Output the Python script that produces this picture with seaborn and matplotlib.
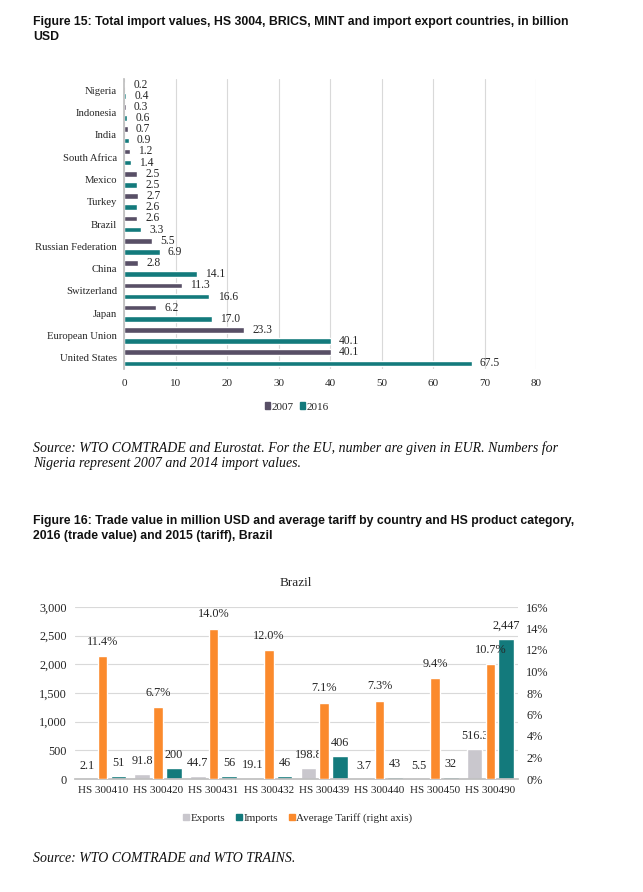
import numpy as np
import pandas as pd
import matplotlib
matplotlib.use('Agg')
import matplotlib.pyplot as plt
import seaborn as sns
from matplotlib.patches import Patch
from matplotlib.ticker import FuncFormatter

# Figure 15 data (billion USD)
countries = ['Nigeria', 'Indonesia', 'India', 'South Africa', 'Mexico', 'Turkey', 'Brazil',
             'Russian Federation', 'China', 'Switzerland', 'Japan', 'European Union', 'United States']
imports_2007 = [0.2, 0.3, 0.7, 1.2, 2.5, 2.7, 2.6, 5.5, 2.8, 11.3, 6.2, 23.3, 40.1]
imports_2016 = [0.4, 0.6, 0.9, 1.4, 2.5, 2.6, 3.3, 6.9, 14.1, 16.6, 17.0, 40.1, 67.5]

# Figure 16 data, Brazil
hs_codes = ['HS 300410', 'HS 300420', 'HS 300431', 'HS 300432',
            'HS 300439', 'HS 300440', 'HS 300450', 'HS 300490']
exports = [2.1, 91.8, 44.7, 19.1, 198.8, 3.7, 5.5, 516.3]
imports = [51, 200, 56, 46, 406, 43, 32, 2447]
tariff = [11.4, 6.7, 14.0, 12.0, 7.1, 7.3, 9.4, 10.7]

C2007 = '#584f66'
TEAL = '#137a7c'
GREY = '#c9c7cd'
ORANGE = '#fb8a2c'
GRID = '#d9d9d9'

sns.set_theme(style='white')
SERIF = ['Liberation Serif', 'DejaVu Serif']
SANS = ['Liberation Sans Narrow', 'Liberation Sans', 'DejaVu Sans']
plt.rcParams['font.family'] = SERIF

W, H = 643, 892
fig = plt.figure(figsize=(W / 100, H / 100), dpi=100)


def box(l, t, r, b):
    return [l / W, 1 - b / H, (r - l) / W, (b - t) / H]


def ftext(x, y, s, **kw):
    fig.text(x / W, 1 - y / H, s, va='center', **kw)


# titles and sources
title_kw = dict(family=SANS, fontweight='bold', fontsize=8.8, color='#111111')
ftext(33, 22, 'Figure 15: Total import values, HS 3004, BRICS, MINT and import export countries, in billion', **title_kw)
ftext(33, 37, 'USD', **title_kw)
src_kw = dict(fontstyle='italic', fontsize=10, color='#111111')
ftext(33, 448, 'Source: WTO COMTRADE and Eurostat. For the EU, number are given in EUR. Numbers for', **src_kw)
ftext(33, 463, 'Nigeria represent 2007 and 2014 import values.', **src_kw)
ftext(33, 521, 'Figure 16: Trade value in million USD and average tariff by country and HS product category,', **title_kw)
ftext(33, 536, '2016 (trade value) and 2015 (tariff), Brazil', **title_kw)
ftext(33, 858, 'Source: WTO COMTRADE and WTO TRAINS.', **src_kw)

# Figure 15: horizontal bars
df1 = pd.DataFrame({'country': countries * 2,
                    'value': imports_2007 + imports_2016,
                    'year': ['2007'] * len(countries) + ['2016'] * len(countries)})
ax1 = fig.add_axes(box(124, 79, 536, 369))
sns.barplot(data=df1, x='value', y='country', hue='year', orient='h',
            palette=[C2007, TEAL], saturation=1, width=1.0, gap=0.5,
            errorbar=None, legend=False, ax=ax1)
for cont in ax1.containers:
    ax1.bar_label(cont, fmt='%.1f', padding=6, fontsize=8.3)
ax1.set_xlim(0, 80)
ax1.set_ylim(len(countries) - 0.5, -0.5)
ax1.set_xticks(range(0, 81, 10))
ax1.grid(axis='x', color=GRID, linewidth=0.8)
ax1.set_axisbelow(True)
for s in ['top', 'right', 'bottom']:
    ax1.spines[s].set_visible(False)
ax1.spines['left'].set_color('#bfbfbf')
ax1.tick_params(axis='both', length=0, labelsize=8)
ax1.tick_params(axis='y', labelsize=7.7, pad=5)
ax1.tick_params(axis='x', pad=7)
ax1.set_xlabel('')
ax1.set_ylabel('')

fig.legend(handles=[Patch(color=C2007, label='2007'), Patch(color=TEAL, label='2016')],
           loc='center', bbox_to_anchor=(297 / W, 1 - 407 / H), ncol=2, frameon=False,
           fontsize=8, handlelength=0.5, handleheight=0.5, handletextpad=0.15,
           columnspacing=0.5)

# Figure 16: clustered bars with tariff on the right axis
df2 = pd.DataFrame({'code': hs_codes * 2,
                    'value': exports + imports,
                    'flow': ['Exports'] * len(hs_codes) + ['Imports'] * len(hs_codes)})
ax2 = fig.add_axes(box(75, 607, 518, 779))
sns.barplot(data=df2, x='code', y='value', hue='flow', palette=[GREY, TEAL],
            saturation=1, width=1.14, gap=0.5, errorbar=None, legend=False, ax=ax2)
ax2.bar_label(ax2.containers[0], fmt='{:.1f}', padding=5, fontsize=8.8)
ax2.bar_label(ax2.containers[1], fmt='{:,.0f}', padding=5, fontsize=8.8)
ax2.set_ylim(0, 3000)
ax2.set_yticks(range(0, 3001, 500))
ax2.yaxis.set_major_formatter(FuncFormatter(lambda v, p: f'{v:,.0f}'))
ax2.grid(axis='y', color=GRID, linewidth=0.8)
ax2.set_axisbelow(True)
for s in ['top', 'right', 'left']:
    ax2.spines[s].set_visible(False)
ax2.spines['bottom'].set_color('#bfbfbf')
ax2.tick_params(axis='both', length=0, labelsize=8)
ax2.tick_params(axis='y', labelsize=8.8, pad=6)
ax2.tick_params(axis='x', pad=5)
ax2.set_xlabel('')
ax2.set_ylabel('')

ax3 = ax2.twinx()
sns.barplot(x=hs_codes, y=tariff, color=ORANGE, saturation=1, width=0.17,
            errorbar=None, ax=ax3)
ax3.bar_label(ax3.containers[0], fmt='{:.1f}%', padding=6, fontsize=8.8)
ax3.set_ylim(0, 16)
ax3.set_yticks(range(0, 17, 2))
ax3.yaxis.set_major_formatter(FuncFormatter(lambda v, p: f'{v:.0f}%'))
ax3.grid(False)
for s in ax3.spines.values():
    s.set_visible(False)
ax3.tick_params(axis='y', length=0, labelsize=8.8, pad=6)
ax3.set_ylabel('')
ax2.set_xlim(-0.5, len(hs_codes) - 0.5)

ftext(296, 583, 'Brazil', fontsize=9.5, ha='center')

fig.legend(handles=[Patch(color=GREY, label='Exports'), Patch(color=TEAL, label='Imports'),
                    Patch(color=ORANGE, label='Average Tariff (right axis)')],
           loc='center', bbox_to_anchor=(298 / W, 1 - 818 / H), ncol=3, frameon=False,
           fontsize=8, handlelength=0.5, handleheight=0.5, handletextpad=0.15,
           columnspacing=1.0)

fig.savefig('out.png', dpi=100)
